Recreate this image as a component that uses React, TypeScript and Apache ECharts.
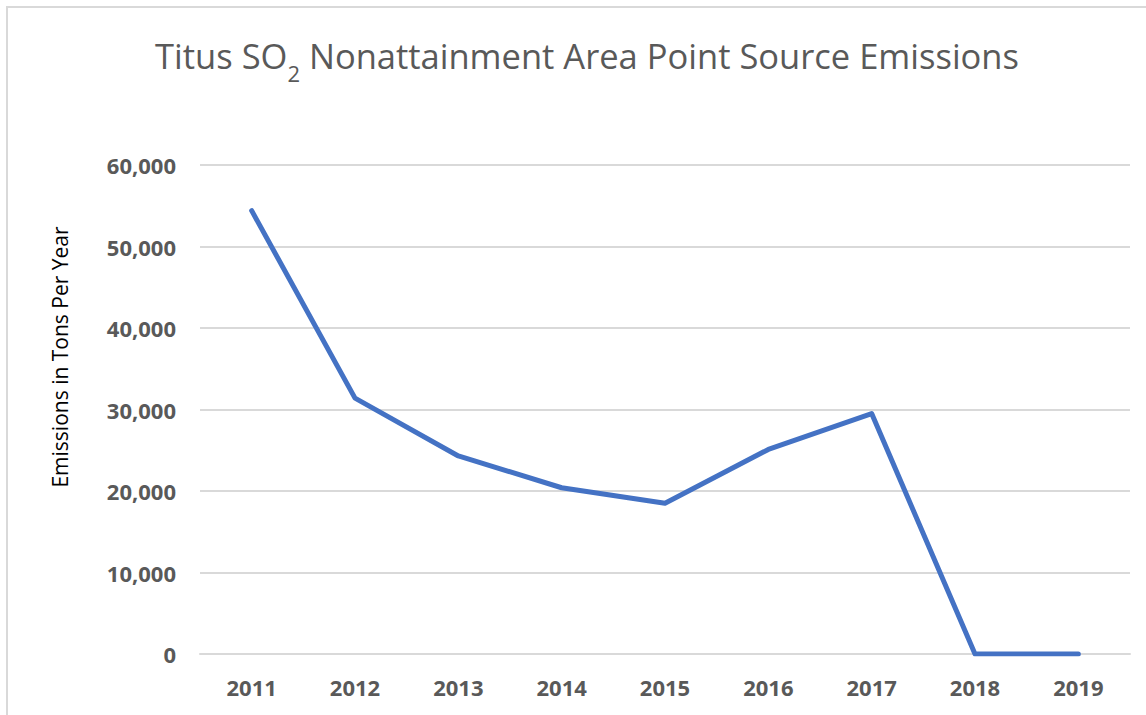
import React, { useEffect, useRef } from "react";
import * as echarts from "echarts";

const years = ["2011", "2012", "2013", "2014", "2015", "2016", "2017", "2018", "2019"];
const emissions = [54400, 31400, 24300, 20400, 18500, 25100, 29500, 0, 0];
const yTicks = { min: 0, max: 60000, interval: 10000 };
const titleText = "Titus SO{sub|2} Nonattainment Area Point Source Emissions";
const yAxisTitle = "Emissions in Tons Per Year";

export default function App() {
  const ref = useRef<HTMLDivElement>(null);
  useEffect(() => {
    if (!ref.current) return;
    const chart = echarts.init(ref.current, undefined, { renderer: "svg" });
    chart.setOption({
      animation: false,
      backgroundColor: "#ffffff",
      title: {
        text: titleText,
        left: 582,
        top: 33,
        textAlign: "center",
        textStyle: {
          fontFamily: "Open Sans",
          fontSize: 34.5,
          fontWeight: "normal",
          color: "#595959",
          rich: {
            sub: {
              fontFamily: "Open Sans",
              fontSize: 22,
              color: "#595959",
              verticalAlign: "bottom",
              padding: [0, 0, -11, 0],
            },
          },
        },
      },
      graphic: [
        {
          type: "rect",
          shape: { x: 7, y: 7, width: 1200, height: 800 },
          style: { fill: "none", stroke: "#d9d9d9", lineWidth: 2 },
          silent: true,
        },
        {
          type: "text",
          x: 60,
          y: 357,
          rotation: Math.PI / 2,
          style: {
            text: yAxisTitle,
            fontFamily: "Open Sans",
            fontSize: 21,
            fill: "#000000",
            align: "center",
            verticalAlign: "middle",
          },
        },
      ],
      grid: { left: 200, right: 16, top: 165, bottom: 61, containLabel: false },
      xAxis: {
        type: "category",
        data: years,
        boundaryGap: true,
        axisLine: { show: true, lineStyle: { color: "#d9d9d9", width: 2 } },
        axisTick: { show: false },
        axisLabel: {
          margin: 22,
          fontFamily: "Open Sans",
          fontSize: 22,
          fontWeight: "bold",
          color: "#595959",
        },
      },
      yAxis: {
        type: "value",
        min: yTicks.min,
        max: yTicks.max,
        interval: yTicks.interval,
        axisLine: { show: false },
        axisTick: { show: false },
        splitLine: { lineStyle: { color: "#d9d9d9", width: 2 } },
        axisLabel: {
          margin: 24,
          fontFamily: "Open Sans",
          fontSize: 22,
          fontWeight: "bold",
          color: "#595959",
          formatter: (v: number) => v.toLocaleString("en-US"),
        },
      },
      series: [
        {
          type: "line",
          data: emissions,
          showSymbol: false,
          symbol: "none",
          lineStyle: { color: "#4472C4", width: 5, cap: "round", join: "round" },
          itemStyle: { color: "#4472C4" },
        },
      ],
    });
    return () => chart.dispose();
  }, []);
  return (
    <div
      ref={ref}
      style={{ position: "fixed", left: 0, top: 0, width: 1146, height: 715 }}
    />
  );
}
